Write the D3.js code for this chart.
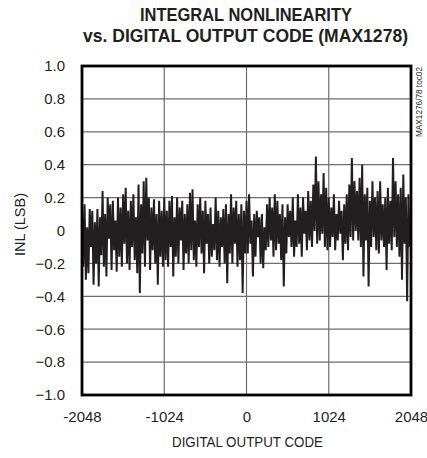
<!DOCTYPE html>
<html>
<head>
<meta charset="utf-8">
<script src="https://d3js.org/d3.v7.min.js"></script>
<style>
  body { margin: 0; background: #fff; }
  text { font-family: "Liberation Sans", Arial, sans-serif; fill: #231f20; }
</style>
</head>
<body>
<svg id="chart"></svg>
<script>
// INL values, one every 16 codes from -2048 to 2048
const inlQ1 = [0.14,-0.22,0.16,-0.30,0.02,-0.26,0.13,-0.10,0.12,-0.33,0.05,-0.20,0.13,-0.34,0.08,-0.15,
  0.24,-0.22,0.10,-0.28,0.20,-0.05,0.16,-0.24,0.18,-0.12,0.06,-0.25,0.20,-0.16,0.14,-0.22,
  0.22,-0.08,0.26,-0.20,0.12,-0.24,0.18,-0.10,0.22,-0.18,0.08,-0.26,0.28,-0.38,0.16,-0.14,
  0.30,-0.22,0.32,-0.06,0.20,-0.24,0.14,-0.12,0.19,-0.20,0.10,-0.33,0.18,-0.16,0.12,-0.22];
const inlQ2 = [0.20,-0.18,0.12,-0.22,0.18,-0.10,0.21,-0.28,0.08,-0.16,0.20,-0.20,0.14,-0.06,0.18,-0.24,
  0.10,-0.14,0.16,-0.20,0.23,-0.12,0.25,-0.18,0.06,-0.22,0.16,-0.10,0.20,-0.14,0.12,-0.26,
  0.18,-0.08,0.10,-0.20,0.14,-0.16,0.04,-0.12,0.20,-0.18,0.12,-0.22,0.08,-0.10,0.13,-0.20,
  0.16,-0.32,0.10,-0.14,0.22,-0.20,0.14,-0.08,0.18,-0.22,0.10,-0.18,0.16,-0.38,0.12,-0.14];
const inlQ3 = [0.18,-0.14,0.22,-0.08,0.06,-0.28,0.10,-0.16,0.12,-0.04,0.08,-0.20,0.10,-0.23,0.02,-0.12,
  0.16,-0.10,0.20,-0.06,0.14,-0.16,0.22,-0.12,0.18,-0.08,0.10,-0.18,0.16,-0.34,0.08,-0.14,
  0.16,-0.04,0.12,-0.10,0.20,-0.16,0.06,-0.10,0.22,-0.08,0.14,-0.16,0.20,-0.02,0.12,-0.12,
  0.24,-0.06,0.18,-0.10,0.28,0.00,0.45,-0.08,0.30,-0.06,0.22,-0.02,0.35,-0.10,0.26,-0.12];
const inlQ4 = [0.20,-0.10,0.14,-0.04,0.22,-0.12,0.10,-0.06,0.18,-0.02,0.12,-0.18,0.16,-0.08,0.22,-0.12,
  0.28,-0.04,0.44,-0.06,0.30,0.00,0.24,-0.06,0.32,-0.10,0.40,-0.28,0.22,-0.06,0.26,-0.34,
  0.18,-0.10,0.30,-0.04,0.20,-0.12,0.24,-0.14,0.30,-0.06,0.16,-0.10,0.20,-0.24,0.26,-0.08,
  0.18,-0.12,0.44,-0.04,0.30,-0.10,0.22,-0.16,0.26,-0.30,0.34,-0.08,0.20,-0.43,0.22,-0.10,0.06];
const codeStep = 16;

const xTicks = [-2048, -1024, 0, 1024, 2048];
const yTicks = [-1.0, -0.8, -0.6, -0.4, -0.2, 0, 0.2, 0.4, 0.6, 0.8, 1.0];

const width = 427, height = 458;
const margin = {top: 66, right: 16, bottom: 63, left: 82};

const svg = d3.select("#chart").attr("width", width).attr("height", height);

const inl = inlQ1.concat(inlQ2, inlQ3, inlQ4);
const data = inl.map((v, i) => ({code: -2048 + i * codeStep, v: v}));

const x = d3.scaleLinear().domain([-2048, 2048]).range([margin.left, width - margin.right]);
const y = d3.scaleLinear().domain([-1, 1]).range([height - margin.bottom, margin.top]);

// grid
svg.append("g").selectAll("line").data(yTicks.slice(1, -1)).enter().append("line")
  .attr("x1", x(-2048)).attr("x2", x(2048))
  .attr("y1", d => y(d)).attr("y2", d => y(d))
  .attr("stroke", "#6d6d6d").attr("stroke-width", 1.2);
svg.append("g").selectAll("line").data(xTicks.slice(1, -1)).enter().append("line")
  .attr("y1", y(-1)).attr("y2", y(1))
  .attr("x1", d => x(d)).attr("x2", d => x(d))
  .attr("stroke", "#6d6d6d").attr("stroke-width", 1.2);

// data line
const line = d3.line().x(d => x(d.code)).y(d => y(d.v));
svg.append("path").datum(data)
  .attr("d", line)
  .attr("fill", "none")
  .attr("stroke", "#231f20")
  .attr("stroke-width", 2)
  .attr("stroke-linejoin", "bevel");

// frame
svg.append("rect")
  .attr("x", x(-2048)).attr("y", y(1))
  .attr("width", x(2048) - x(-2048)).attr("height", y(-1) - y(1))
  .attr("fill", "none").attr("stroke", "#000").attr("stroke-width", 2.8);

// axes labels (no tick marks in the original)
const yAxis = d3.axisLeft(y).tickValues(yTicks).tickSize(0).tickPadding(17)
  .tickFormat(d => d === 0 ? "0" : d3.format(".1f")(d));
svg.append("g").attr("transform", `translate(${margin.left},0)`).call(yAxis)
  .call(g => g.select(".domain").remove())
  .selectAll("text").style("font-size", "15px").attr("fill", "#231f20")
  .attr("font-family", null);

const xAxis = d3.axisBottom(x).tickValues(xTicks).tickSize(0).tickPadding(16)
  .tickFormat(d => d === -2048 ? "-2048" : d === -1024 ? "-1024" : d);
svg.append("g").attr("transform", `translate(0,${height - margin.bottom})`).call(xAxis)
  .call(g => g.select(".domain").remove())
  .selectAll("text").style("font-size", "15px").attr("fill", "#231f20")
  .attr("font-family", null);

// titles
svg.append("text").attr("x", 246).attr("y", 21).attr("text-anchor", "middle")
  .attr("font-weight", "bold").style("font-size", "18.5px")
  .attr("textLength", 212).attr("lengthAdjust", "spacingAndGlyphs")
  .text("INTEGRAL NONLINEARITY");
svg.append("text").attr("x", 245.5).attr("y", 41.5).attr("text-anchor", "middle")
  .attr("font-weight", "bold").style("font-size", "18.5px")
  .attr("textLength", 325).attr("lengthAdjust", "spacingAndGlyphs")
  .text("vs. DIGITAL OUTPUT CODE (MAX1278)");

svg.append("text").attr("x", 247.5).attr("y", 447).attr("text-anchor", "middle")
  .style("font-size", "15px")
  .attr("textLength", 151).attr("lengthAdjust", "spacingAndGlyphs")
  .text("DIGITAL OUTPUT CODE");

svg.append("text").attr("transform", "translate(25,224.5) rotate(-90)")
  .attr("text-anchor", "middle").style("font-size", "14.5px")
  .attr("textLength", 63).attr("lengthAdjust", "spacingAndGlyphs")
  .text("INL (LSB)");

svg.append("text").attr("transform", "translate(421.5,102) rotate(-90)")
  .attr("text-anchor", "middle").style("font-size", "9px")
  .attr("textLength", 70).attr("lengthAdjust", "spacingAndGlyphs")
  .text("MAX1276/78 toc02");
</script>
</body>
</html>
